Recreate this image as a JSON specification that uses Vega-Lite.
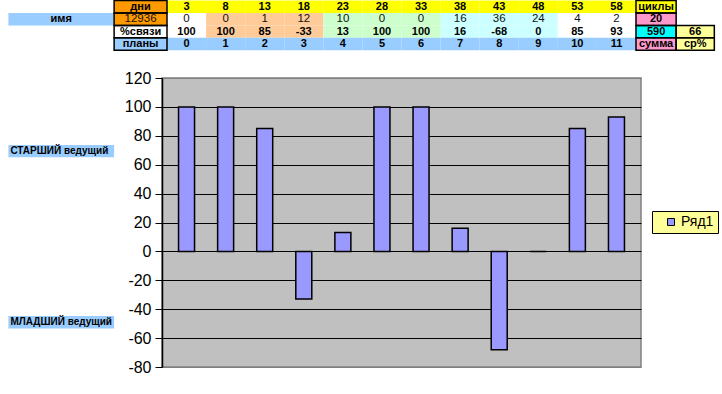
{
  "$schema": "https://vega.github.io/schema/vega-lite/v6.json",
  "width": 479,
  "height": 289,
  "autosize": {"type": "none"},
  "padding": {"left": 162, "top": 78, "right": 81, "bottom": 27},
  "background": "white",
  "config": {
    "view": {"fill": "#C0C0C0", "stroke": "#808080", "strokeWidth": 1.5},
    "font": "Liberation Sans"
  },
  "datasets": {
    "cells": [
      {"r": 0, "c0": -1.853, "c1": -0.5, "t": "дни", "fill": "orange", "w": "b", "box": true},
      {"r": 0, "c0": -0.5, "c1": 0.5, "t": "3", "fill": "yellow", "w": "b", "box": false},
      {"r": 0, "c0": 0.5, "c1": 1.5, "t": "8", "fill": "yellow", "w": "b", "box": false},
      {"r": 0, "c0": 1.5, "c1": 2.5, "t": "13", "fill": "yellow", "w": "b", "box": false},
      {"r": 0, "c0": 2.5, "c1": 3.5, "t": "18", "fill": "yellow", "w": "b", "box": false},
      {"r": 0, "c0": 3.5, "c1": 4.5, "t": "23", "fill": "yellow", "w": "b", "box": false},
      {"r": 0, "c0": 4.5, "c1": 5.5, "t": "28", "fill": "yellow", "w": "b", "box": false},
      {"r": 0, "c0": 5.5, "c1": 6.5, "t": "33", "fill": "yellow", "w": "b", "box": false},
      {"r": 0, "c0": 6.5, "c1": 7.5, "t": "38", "fill": "yellow", "w": "b", "box": false},
      {"r": 0, "c0": 7.5, "c1": 8.5, "t": "43", "fill": "yellow", "w": "b", "box": false},
      {"r": 0, "c0": 8.5, "c1": 9.5, "t": "48", "fill": "yellow", "w": "b", "box": false},
      {"r": 0, "c0": 9.5, "c1": 10.5, "t": "53", "fill": "yellow", "w": "b", "box": false},
      {"r": 0, "c0": 10.5, "c1": 11.5, "t": "58", "fill": "yellow", "w": "b", "box": false},
      {"r": 0, "c0": 11.5, "c1": 12.527, "t": "циклы", "fill": "yellow", "w": "b", "box": true},

      {"r": 1, "c0": -4.558, "c1": -1.853, "t": "имя", "fill": "blue", "w": "b", "box": false},
      {"r": 1, "c0": -1.853, "c1": -0.5, "t": "12936", "fill": "orange", "w": "n", "box": true},
      {"r": 1, "c0": -0.5, "c1": 0.5, "t": "0", "fill": "white", "w": "n", "box": false},
      {"r": 1, "c0": 0.5, "c1": 1.5, "t": "0", "fill": "peach", "w": "n", "box": false},
      {"r": 1, "c0": 1.5, "c1": 2.5, "t": "1", "fill": "peach", "w": "n", "box": false},
      {"r": 1, "c0": 2.5, "c1": 3.5, "t": "12", "fill": "peach", "w": "n", "box": false},
      {"r": 1, "c0": 3.5, "c1": 4.5, "t": "10", "fill": "green", "w": "n", "box": false},
      {"r": 1, "c0": 4.5, "c1": 5.5, "t": "0", "fill": "green", "w": "n", "box": false},
      {"r": 1, "c0": 5.5, "c1": 6.5, "t": "0", "fill": "green", "w": "n", "box": false},
      {"r": 1, "c0": 6.5, "c1": 7.5, "t": "16", "fill": "lcyan", "w": "n", "box": false},
      {"r": 1, "c0": 7.5, "c1": 8.5, "t": "36", "fill": "lcyan", "w": "n", "box": false},
      {"r": 1, "c0": 8.5, "c1": 9.5, "t": "24", "fill": "lcyan", "w": "n", "box": false},
      {"r": 1, "c0": 9.5, "c1": 10.5, "t": "4", "fill": "white", "w": "n", "box": false},
      {"r": 1, "c0": 10.5, "c1": 11.5, "t": "2", "fill": "white", "w": "n", "box": false},
      {"r": 1, "c0": 11.5, "c1": 12.527, "t": "20", "fill": "pink", "w": "b", "box": true},

      {"r": 2, "c0": -1.853, "c1": -0.5, "t": "%связи", "fill": "white", "w": "b", "box": true},
      {"r": 2, "c0": -0.5, "c1": 0.5, "t": "100", "fill": "white", "w": "b", "box": false},
      {"r": 2, "c0": 0.5, "c1": 1.5, "t": "100", "fill": "peach", "w": "b", "box": false},
      {"r": 2, "c0": 1.5, "c1": 2.5, "t": "85", "fill": "peach", "w": "b", "box": false},
      {"r": 2, "c0": 2.5, "c1": 3.5, "t": "-33", "fill": "peach", "w": "b", "box": false},
      {"r": 2, "c0": 3.5, "c1": 4.5, "t": "13", "fill": "green", "w": "b", "box": false},
      {"r": 2, "c0": 4.5, "c1": 5.5, "t": "100", "fill": "green", "w": "b", "box": false},
      {"r": 2, "c0": 5.5, "c1": 6.5, "t": "100", "fill": "green", "w": "b", "box": false},
      {"r": 2, "c0": 6.5, "c1": 7.5, "t": "16", "fill": "lcyan", "w": "b", "box": false},
      {"r": 2, "c0": 7.5, "c1": 8.5, "t": "-68", "fill": "lcyan", "w": "b", "box": false},
      {"r": 2, "c0": 8.5, "c1": 9.5, "t": "0", "fill": "lcyan", "w": "b", "box": false},
      {"r": 2, "c0": 9.5, "c1": 10.5, "t": "85", "fill": "white", "w": "b", "box": false},
      {"r": 2, "c0": 10.5, "c1": 11.5, "t": "93", "fill": "white", "w": "b", "box": false},
      {"r": 2, "c0": 11.5, "c1": 12.527, "t": "590", "fill": "aqua", "w": "b", "box": true},
      {"r": 2, "c0": 12.527, "c1": 13.504, "t": "66", "fill": "lyellow", "w": "b", "box": true},

      {"r": 3, "c0": -1.853, "c1": -0.5, "t": "планы", "fill": "blue", "w": "b", "box": true},
      {"r": 3, "c0": -0.5, "c1": 0.5, "t": "0", "fill": "blue", "w": "b", "box": false},
      {"r": 3, "c0": 0.5, "c1": 1.5, "t": "1", "fill": "blue", "w": "b", "box": false},
      {"r": 3, "c0": 1.5, "c1": 2.5, "t": "2", "fill": "blue", "w": "b", "box": false},
      {"r": 3, "c0": 2.5, "c1": 3.5, "t": "3", "fill": "blue", "w": "b", "box": false},
      {"r": 3, "c0": 3.5, "c1": 4.5, "t": "4", "fill": "blue", "w": "b", "box": false},
      {"r": 3, "c0": 4.5, "c1": 5.5, "t": "5", "fill": "blue", "w": "b", "box": false},
      {"r": 3, "c0": 5.5, "c1": 6.5, "t": "6", "fill": "blue", "w": "b", "box": false},
      {"r": 3, "c0": 6.5, "c1": 7.5, "t": "7", "fill": "blue", "w": "b", "box": false},
      {"r": 3, "c0": 7.5, "c1": 8.5, "t": "8", "fill": "blue", "w": "b", "box": false},
      {"r": 3, "c0": 8.5, "c1": 9.5, "t": "9", "fill": "blue", "w": "b", "box": false},
      {"r": 3, "c0": 9.5, "c1": 10.5, "t": "10", "fill": "blue", "w": "b", "box": false},
      {"r": 3, "c0": 10.5, "c1": 11.5, "t": "11", "fill": "blue", "w": "b", "box": false},
      {"r": 3, "c0": 11.5, "c1": 12.527, "t": "сумма", "fill": "pink", "w": "b", "box": true},
      {"r": 3, "c0": 12.527, "c1": 13.504, "t": "ср%", "fill": "lyellow", "w": "b", "box": true}
    ],
    "side": [
      {"r": 11.6, "c0": -4.558, "c1": -1.853, "t": "СТАРШИЙ ведущий", "fill": "blue"},
      {"r": 25.35, "c0": -4.558, "c1": -1.853, "t": "МЛАДШИЙ ведущий", "fill": "blue"}
    ],
    "bars": [
      {"plan": 0, "pct": 100, "series": "Ряд1"},
      {"plan": 1, "pct": 100, "series": "Ряд1"},
      {"plan": 2, "pct": 85, "series": "Ряд1"},
      {"plan": 3, "pct": -33, "series": "Ряд1"},
      {"plan": 4, "pct": 13, "series": "Ряд1"},
      {"plan": 5, "pct": 100, "series": "Ряд1"},
      {"plan": 6, "pct": 100, "series": "Ряд1"},
      {"plan": 7, "pct": 16, "series": "Ряд1"},
      {"plan": 8, "pct": -68, "series": "Ряд1"},
      {"plan": 9, "pct": 0, "series": "Ряд1"},
      {"plan": 10, "pct": 85, "series": "Ряд1"},
      {"plan": 11, "pct": 93, "series": "Ряд1"}
    ]
  },
  "resolve": {"scale": {"y": "independent"}},
  "layer": [
    {
      "data": {"name": "cells"},
      "transform": [
        {"calculate": "datum.r + 1", "as": "r1"},
        {"calculate": "datum.r + 0.5", "as": "ry"},
        {"calculate": "(datum.c0 + datum.c1) / 2", "as": "cx"}
      ],
      "layer": [
        {
          "mark": {"type": "rect"},
          "encoding": {
            "x": {"field": "c0", "type": "quantitative", "scale": {"domain": [-0.5, 11.5], "nice": false, "zero": false}, "axis": null},
            "x2": {"field": "c1"},
            "y": {"field": "r", "type": "quantitative", "scale": {"domain": [6.225, 29.438], "reverse": true, "nice": false, "zero": false}, "axis": null},
            "y2": {"field": "r1"},
            "fill": {
              "field": "fill", "type": "nominal",
              "scale": {
                "domain": ["orange", "yellow", "blue", "peach", "green", "lcyan", "white", "pink", "aqua", "lyellow"],
                "range": ["#FF9900", "#FFFF00", "#99CCFF", "#FFCC99", "#CCFFCC", "#CCFFFF", "#FFFFFF", "#FF99CC", "#00FFFF", "#FFFF99"]
              },
              "legend": null
            }
          }
        },
        {
          "transform": [{"filter": "datum.box"}],
          "mark": {"type": "rect", "fill": "transparent", "stroke": "black", "strokeWidth": 1.5},
          "encoding": {
            "x": {"field": "c0", "type": "quantitative", "scale": {"domain": [-0.5, 11.5], "nice": false, "zero": false}, "axis": null},
            "x2": {"field": "c1"},
            "y": {"field": "r", "type": "quantitative", "scale": {"domain": [6.225, 29.438], "reverse": true, "nice": false, "zero": false}, "axis": null},
            "y2": {"field": "r1"}
          }
        },
        {
          "transform": [{"filter": "datum.w == 'b'"}],
          "mark": {"type": "text", "fontWeight": "bold", "fontSize": 11, "font": "Liberation Sans", "align": "center", "baseline": "middle", "color": "black"},
          "encoding": {
            "x": {"field": "cx", "type": "quantitative", "scale": {"domain": [-0.5, 11.5], "nice": false, "zero": false}, "axis": null},
            "y": {"field": "ry", "type": "quantitative", "scale": {"domain": [6.225, 29.438], "reverse": true, "nice": false, "zero": false}, "axis": null},
            "text": {"field": "t"}
          }
        },
        {
          "transform": [{"filter": "datum.w == 'n'"}],
          "mark": {"type": "text", "fontSize": 11.5, "font": "Liberation Sans", "align": "center", "baseline": "middle", "color": "#111111"},
          "encoding": {
            "x": {"field": "cx", "type": "quantitative", "scale": {"domain": [-0.5, 11.5], "nice": false, "zero": false}, "axis": null},
            "y": {"field": "ry", "type": "quantitative", "scale": {"domain": [6.225, 29.438], "reverse": true, "nice": false, "zero": false}, "axis": null},
            "text": {"field": "t"}
          }
        }
      ]
    },
    {
      "data": {"name": "side"},
      "transform": [
        {"calculate": "datum.r + 1", "as": "r1"},
        {"calculate": "datum.r + 0.5", "as": "ry"}
      ],
      "layer": [
        {
          "mark": {"type": "rect"},
          "encoding": {
            "x": {"field": "c0", "type": "quantitative", "scale": {"domain": [-0.5, 11.5], "nice": false, "zero": false}, "axis": null},
            "x2": {"field": "c1"},
            "y": {"field": "r", "type": "quantitative", "scale": {"domain": [6.225, 29.438], "reverse": true, "nice": false, "zero": false}, "axis": null},
            "y2": {"field": "r1"},
            "fill": {"field": "fill", "type": "nominal", "legend": null}
          }
        },
        {
          "mark": {"type": "text", "fontWeight": "bold", "fontSize": 10, "font": "Liberation Sans", "align": "left", "baseline": "middle", "color": "black", "dx": 2},
          "encoding": {
            "x": {"field": "c0", "type": "quantitative", "scale": {"domain": [-0.5, 11.5], "nice": false, "zero": false}, "axis": null},
            "y": {"field": "ry", "type": "quantitative", "scale": {"domain": [6.225, 29.438], "reverse": true, "nice": false, "zero": false}, "axis": null},
            "text": {"field": "t"}
          }
        }
      ]
    },
    {
      "data": {"name": "bars"},
      "mark": {"type": "bar", "width": 16, "stroke": "black", "strokeWidth": 1.5},
      "encoding": {
        "x": {"field": "plan", "type": "quantitative", "scale": {"domain": [-0.5, 11.5], "nice": false, "zero": false}, "axis": null},
        "y": {
          "field": "pct", "type": "quantitative",
          "scale": {"domain": [-80, 120], "nice": false, "zero": false},
          "axis": {
            "values": [-80, -60, -40, -20, 0, 20, 40, 60, 80, 100, 120],
            "labelExpr": "toString(datum.value)",
            "title": null,
            "grid": true,
            "gridColor": {"condition": {"test": "datum.value == 120 || datum.value == -80", "value": "#808080"}, "value": "black"},
            "gridWidth": 1,
            "domainColor": "black",
            "domainWidth": 1.5,
            "tickColor": "black",
            "tickSize": 7,
            "tickWidth": 1,
            "labelFont": "Liberation Sans",
            "labelFontSize": 16,
            "labelColor": "black",
            "labelPadding": 4
          }
        },
        "y2": {"datum": 0},
        "color": {
          "field": "series", "type": "nominal",
          "scale": {"range": ["#9999FF"]},
          "legend": {
            "title": null,
            "orient": "none",
            "legendX": 490,
            "legendY": 133,
            "fillColor": "#FFFF99",
            "strokeColor": "black",
            "padding": 4,
            "symbolType": "square",
            "symbolSize": 49,
            "symbolStrokeColor": "black",
            "symbolStrokeWidth": 1,
            "symbolOffset": 8,
            "labelOffset": 3,
            "labelFont": "Liberation Sans",
            "labelFontSize": 14,
            "labelColor": "black"
          }
        }
      }
    }
  ]
}
